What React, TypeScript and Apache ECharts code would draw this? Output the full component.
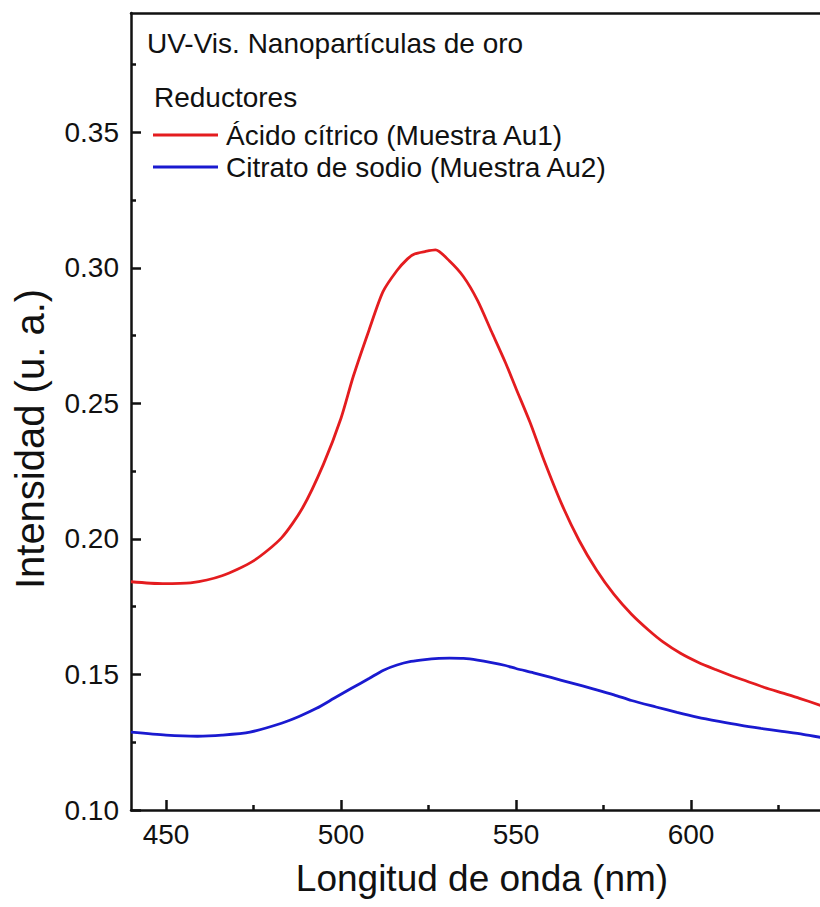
import React, { useEffect, useRef } from "react";
import * as echarts from "echarts";

const wavelengthRed = [440, 449, 457, 466, 475, 483, 489, 495, 500, 503.5, 508, 512, 516, 519, 521, 524, 527, 531, 535, 539, 543, 547, 550, 554, 558, 563, 568, 573, 578, 583, 588, 592, 597, 602, 607, 611, 616, 621, 626, 631, 637];
const intensityRed = [0.1842, 0.1835, 0.1838, 0.1864, 0.1919, 0.2004, 0.2114, 0.2276, 0.2445, 0.2599, 0.2770, 0.2912, 0.2990, 0.3033, 0.3051, 0.3060, 0.3066, 0.3025, 0.2967, 0.2880, 0.2765, 0.2650, 0.2555, 0.2430, 0.2290, 0.2130, 0.1995, 0.1885, 0.1795, 0.1722, 0.1662, 0.1620, 0.1578, 0.1545, 0.1518, 0.1498, 0.1475, 0.1452, 0.1432, 0.1412, 0.1386];

const wavelengthBlue = [440, 450, 459, 466, 474, 483, 488, 493, 498, 503, 508, 512, 516, 520, 524, 528, 531, 535, 539, 543, 547, 550, 555, 560, 566, 572, 578, 583, 590, 596, 602, 608, 614, 620, 626, 632, 637];
const intensityBlue = [0.1287, 0.1276, 0.1272, 0.1276, 0.1287, 0.1320, 0.1345, 0.1375, 0.1412, 0.1449, 0.1485, 0.1515, 0.1535, 0.1548, 0.1555, 0.1559, 0.1560, 0.1559, 0.1553, 0.1544, 0.1533, 0.1522, 0.1506, 0.1489, 0.1468, 0.1447, 0.1425, 0.1404, 0.1380, 0.1360, 0.1342, 0.1327, 0.1313, 0.1301, 0.1290, 0.1279, 0.1268];

const seriesNames = ["Ácido cítrico (Muestra Au1)", "Citrato de sodio (Muestra Au2)"];
const seriesColors = ["#e41c1f", "#1a1ad0"];

const xMajorTicks = [450, 500, 550, 600];
const xMinorTicks = [475, 525, 575, 625];
const yMajorTicks = [0.1, 0.15, 0.2, 0.25, 0.3, 0.35];
const yMinorTicks = [0.125, 0.175, 0.225, 0.275, 0.325, 0.375];

const xTitle = "Longitud de onda (nm)";
const yTitle = "Intensidad (u. a.)";
const plotTitle = "UV-Vis. Nanopartículas de oro";
const legendTitle = "Reductores";

const FONT = "'Liberation Sans', Arial, Helvetica, sans-serif";
const INK = "#111111";

export default function App() {
  const ref = useRef<HTMLDivElement>(null);

  useEffect(() => {
    if (!ref.current) return;
    const chart = echarts.init(ref.current, undefined, { renderer: "svg" });
    const xMin = 440;
    const xMax = 660;
    const yMin = 0.1;
    const yMax = 0.394;
    const axisLine = { show: true, lineStyle: { color: INK, width: 2.5 } };

    const option: any = {
      animation: false,
      backgroundColor: "#ffffff",
      textStyle: { fontFamily: FONT },
      grid: { left: 131, top: 13, width: 770, height: 797, containLabel: false },
      legend: {
        orient: "vertical",
        left: 153,
        top: 121,
        padding: 0,
        itemWidth: 65,
        itemHeight: 3,
        itemGap: 4,
        icon: "rect",
        selectedMode: false,
        data: seriesNames,
        textStyle: { fontSize: 28, lineHeight: 28, color: INK, fontFamily: FONT, padding: [0, 0, 0, 3] },
      },
      xAxis: [
        {
          type: "value",
          min: xMin,
          max: xMax,
          position: "bottom",
          axisLine,
          splitLine: { show: false },
          axisTick: { show: true, inside: true, length: 10, lineStyle: { color: INK, width: 2.5 }, customValues: xMajorTicks },
          axisLabel: { customValues: xMajorTicks, fontSize: 28, color: INK, margin: 10, fontFamily: FONT },
        },
        {
          type: "value",
          min: xMin,
          max: xMax,
          position: "bottom",
          axisLine: { show: false },
          splitLine: { show: false },
          axisTick: { show: true, inside: true, length: 5, lineStyle: { color: INK, width: 2.5 }, customValues: xMinorTicks },
          axisLabel: { show: false },
        },
        {
          type: "value",
          min: xMin,
          max: xMax,
          position: "top",
          axisLine,
          splitLine: { show: false },
          axisTick: { show: false },
          axisLabel: { show: false },
        },
      ],
      yAxis: [
        {
          type: "value",
          min: yMin,
          max: yMax,
          position: "left",
          axisLine,
          splitLine: { show: false },
          axisTick: { show: true, inside: true, length: 10, lineStyle: { color: INK, width: 2.5 }, customValues: yMajorTicks },
          axisLabel: {
            customValues: yMajorTicks,
            formatter: (v: number) => v.toFixed(2),
            fontSize: 28,
            color: INK,
            margin: 12,
            fontFamily: FONT,
          },
        },
        {
          type: "value",
          min: yMin,
          max: yMax,
          position: "left",
          axisLine: { show: false },
          splitLine: { show: false },
          axisTick: { show: true, inside: true, length: 5, lineStyle: { color: INK, width: 2.5 }, customValues: yMinorTicks },
          axisLabel: { show: false },
        },
      ],
      series: [
        {
          name: seriesNames[0],
          type: "line",
          xAxisIndex: 0,
          yAxisIndex: 0,
          showSymbol: false,
          smooth: 0.25,
          color: seriesColors[0],
          lineStyle: { color: seriesColors[0], width: 2.8 },
          data: wavelengthRed.map((w, i) => [w, intensityRed[i]]),
        },
        {
          name: seriesNames[1],
          type: "line",
          xAxisIndex: 0,
          yAxisIndex: 0,
          showSymbol: false,
          smooth: 0.25,
          color: seriesColors[1],
          lineStyle: { color: seriesColors[1], width: 2.8 },
          data: wavelengthBlue.map((w, i) => [w, intensityBlue[i]]),
        },
      ],
      graphic: [
        {
          type: "text",
          x: 147,
          y: 43,
          style: { text: plotTitle, fontSize: 28, fill: INK, fontFamily: FONT, align: "left", verticalAlign: "middle" },
        },
        {
          type: "text",
          x: 154,
          y: 97,
          style: { text: legendTitle, fontSize: 28, fill: INK, fontFamily: FONT, align: "left", verticalAlign: "middle" },
        },
        {
          type: "text",
          x: 482,
          y: 878,
          style: { text: xTitle, fontSize: 37, fill: INK, fontFamily: FONT, align: "center", verticalAlign: "middle" },
        },
        {
          type: "text",
          x: 30,
          y: 439,
          rotation: Math.PI / 2,
          style: { text: yTitle, fontSize: 40, fill: INK, fontFamily: FONT, align: "center", verticalAlign: "middle" },
        },
      ],
    };

    chart.setOption(option);
    return () => chart.dispose();
  }, []);

  return (
    <div style={{ position: "fixed", left: 0, top: 0, width: 820, height: 907, overflow: "hidden", background: "#fff" }}>
      <div ref={ref} style={{ width: 910, height: 907 }} />
    </div>
  );
}
